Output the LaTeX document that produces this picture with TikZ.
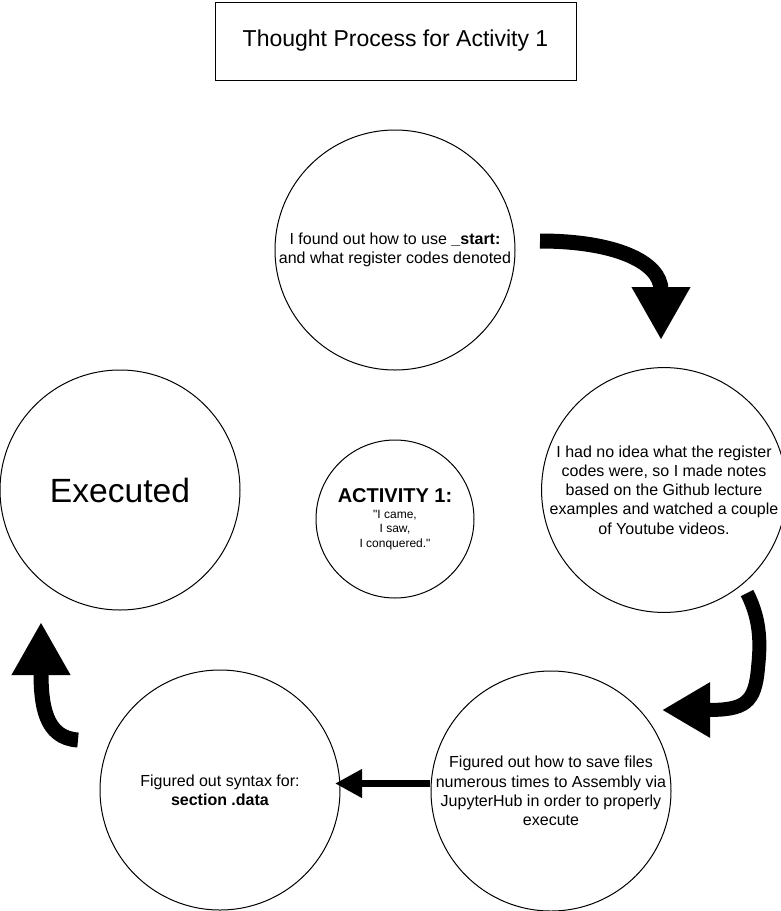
\documentclass[tikz,border=0pt]{standalone}
\usepackage{fontspec}
\setmainfont{Liberation Sans}[Ligatures=TeXOff]
\usetikzlibrary{arrows.meta}
\begin{document}
\begin{tikzpicture}[x=1pt,y=-1pt,
  bubble/.style={circle, draw, line width=1pt, minimum size=240pt, inner sep=0pt, align=center, font=\fontsize{16}{19.2}\selectfont},
  hub/.style={circle, draw, line width=1pt, minimum size=158pt, inner sep=0pt, align=center, font=\fontsize{12}{14.5}\selectfont},
  titlebox/.style={draw, line width=1pt, minimum width=361pt, minimum height=78pt, inner sep=0pt, font=\fontsize{23}{27}\selectfont},
  bigarrow/.style={line width=15pt, -{Triangle[width=55pt,length=53pt]}},
  midarrow/.style={line width=14pt, -{Triangle[width=52pt,length=48pt]}},
  thinarrow/.style={line width=7pt, -{Triangle[width=27pt,length=27pt]}}
]
\path[use as bounding box] (0,0) rectangle (781,911);

\node[titlebox] (title) at (395.5,41) {Thought Process for Activity 1};

\node[bubble] (found) at (395,250) {I found out how to use \textbf{\_start:}\\and what register codes denoted};
\node[bubble] (idea) at (664,490) {I had no idea what the register\\codes were, so I made notes\\based on the Github lecture\\examples and watched a couple\\of Youtube videos.};
\node[bubble] (save) at (551,791) {Figured out how to save files\\numerous times to Assembly via\\JupyterHub in order to properly\\execute};
\node[bubble] (syntax) at (220,790) {Figured out syntax for:\\\textbf{section .data}};
\node[bubble, font=\fontsize{33.6}{40}\selectfont] (exec) at (120,490) {Executed};
\node[hub] (hub) at (395,519) {{\fontsize{20}{20}\selectfont\bfseries ACTIVITY 1:}\\[1.5pt]"I came,\\I saw,\\I conquered."};

\coordinate (a1s) at (540,241);
\coordinate (a1e) at (661,340);
\coordinate (a2s) at (747,593);
\coordinate (a2e) at (662,710);
\coordinate (a3s) at (430,783.5);
\coordinate (a3e) at (335,783.5);
\coordinate (a4s) at (78,740);
\coordinate (a4e) at (41,622);

\draw[bigarrow] (a1s) .. controls (615,241) and (661,262) .. (a1e);
\draw[midarrow] (a2s) .. controls (762,622) and (760,648) .. (758,668) .. controls (755,703) and (745,710) .. (a2e);
\draw[thinarrow] (a3s) -- (a3e);
\draw[bigarrow] (a4s) .. controls (45,738) and (41,705) .. (a4e);
\end{tikzpicture}
\end{document}
